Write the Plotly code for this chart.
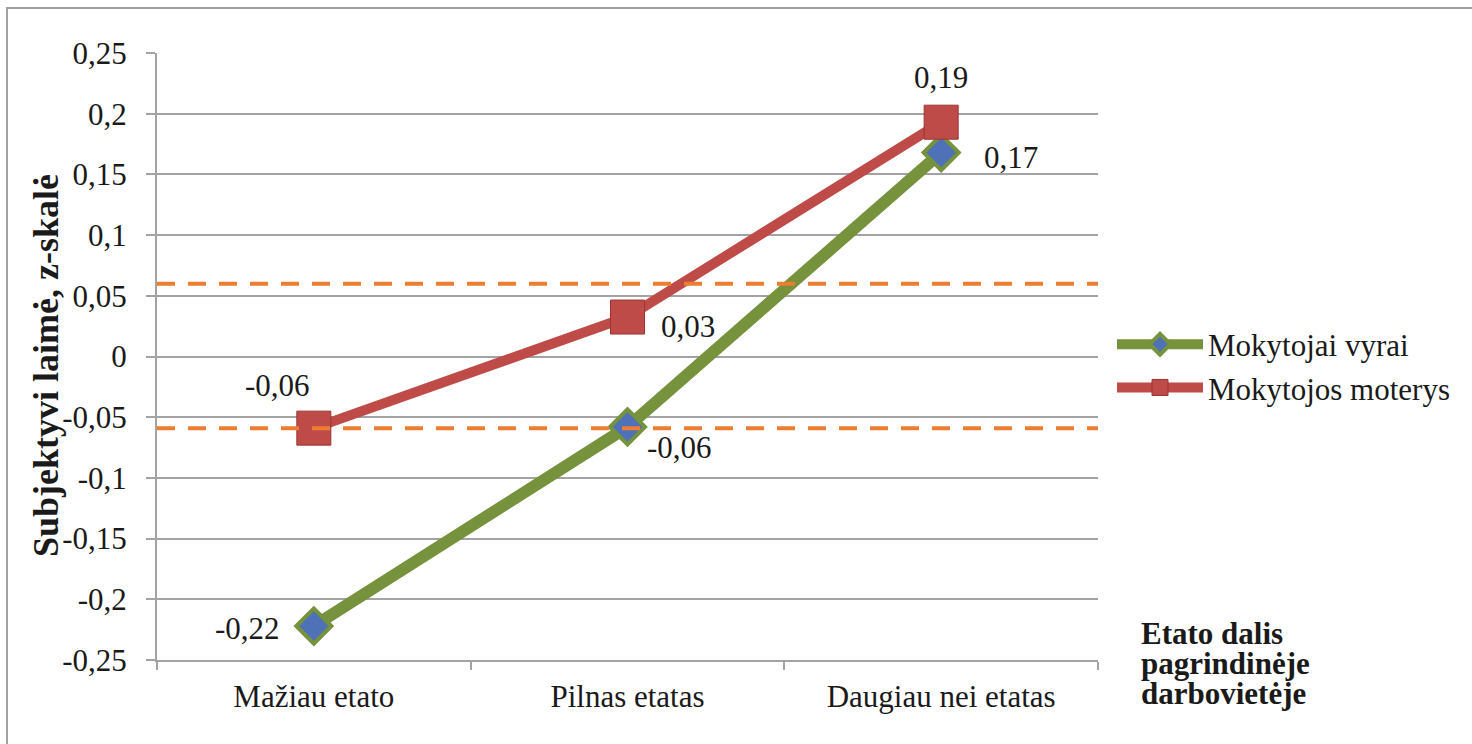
import plotly.graph_objects as go

# ---- data ----
categories = ["Mažiau etato", "Pilnas etatas", "Daugiau nei etatas"]
men_values = [-0.222, -0.058, 0.168]
women_values = [-0.059, 0.0325, 0.193]
men_labels = ["-0,22", "-0,06", "0,17"]
women_labels = ["-0,06", "0,03", "0,19"]
ref_lines = [0.06, -0.059]
y_tickvals = [0.25, 0.2, 0.15, 0.1, 0.05, 0, -0.05, -0.1, -0.15, -0.2, -0.25]
y_ticktext = ["0,25", "0,2", "0,15", "0,1", "0,05", "0", "-0,05", "-0,1", "-0,15", "-0,2", "-0,25"]
series_names = ["Mokytojai vyrai", "Mokytojos moterys"]
y_title = "Subjektyvi laimė, z-skalė"
x_title_lines = ["Etato dalis", "pagrindinėje", "darbovietėje"]

# ---- style ----
W, H = 1472, 744
L, R, T, B = 157, 1098, 53, 660
PW, PH = R - L, B - T
FONT = "Liberation Serif, Times New Roman, serif"
GRID = "#A3A3A3"
GREEN = "#76923C"
RED = "#BE4B48"
BLUE = "#4F71B8"
ORANGE = "#ED7D31"
TXT = "#1A1A1A"

def px2x(px):
    return (px - L) / PW

def py2y(py):
    return (B - py) / PH

men_offsets = [(-66, -2), (52, -21), (70, -5)]
women_offsets = [(-36, 43), (60, -9), (0, 45)]

fig = go.Figure()
fig.add_trace(go.Scatter(
    x=categories, y=men_values, name=series_names[0], mode="lines+markers",
    line=dict(color=GREEN, width=12),
    marker=dict(symbol="diamond", size=27, color=BLUE, line=dict(color=GREEN, width=4)),
))
fig.add_trace(go.Scatter(
    x=categories, y=women_values, name=series_names[1], mode="lines+markers",
    line=dict(color=RED, width=10),
    marker=dict(symbol="square", size=34, color=RED, line=dict(color="#9A3532", width=1)),
))

annotations = []
for vals, labels, offs in [(men_values, men_labels, men_offsets), (women_values, women_labels, women_offsets)]:
    for c, v, t, (dx, dy) in zip(categories, vals, labels, offs):
        annotations.append(dict(x=c, y=v, xref="x", yref="y", text=t, showarrow=False,
                                xshift=dx, yshift=dy, font=dict(family=FONT, size=31, color=TXT)))

annotations.append(dict(x=px2x(46), y=py2y(366), xref="paper", yref="paper", text="<b>%s</b>" % y_title,
                        textangle=-90, showarrow=False, xanchor="center", yanchor="middle",
                        font=dict(family=FONT, size=36, color=TXT)))
for i, line in enumerate(x_title_lines):
    annotations.append(dict(x=px2x(1139), y=py2y(633 + 30 * i), xref="paper", yref="paper",
                            text="<b>%s</b>" % line, showarrow=False, xanchor="left", yanchor="middle",
                            font=dict(family=FONT, size=31, color=TXT)))

shapes = []
for rv in ref_lines:
    shapes.append(dict(type="line", xref="paper", yref="y", x0=0, x1=1, y0=rv, y1=rv,
                       line=dict(color=ORANGE, width=4, dash="18px,13px"), layer="above"))
# outer frame (left + top)
shapes.append(dict(type="path", xref="paper", yref="paper",
                   path="M %f,%f L %f,%f L %f,%f" % (px2x(7), py2y(760), px2x(7), py2y(8), px2x(1480), py2y(8)),
                   line=dict(color="#A0A0A0", width=2)))

fig.update_layout(
    width=W, height=H, autosize=False,
    margin=dict(l=L, r=W - R, t=T, b=H - B, pad=0),
    paper_bgcolor="white", plot_bgcolor="white",
    font=dict(family=FONT, size=31, color=TXT),
    showlegend=True,
    legend=dict(x=px2x(1112), y=py2y(366), xanchor="left", yanchor="middle",
                font=dict(family=FONT, size=31, color=TXT), itemwidth=86,
                bgcolor="rgba(0,0,0,0)", tracegroupgap=0),
    annotations=annotations,
    shapes=shapes,
)
fig.update_xaxes(
    type="category", range=[-0.5, 2.5], showgrid=False, showline=True, linecolor=GRID, linewidth=2,
    ticks="outside", tickson="boundaries", ticklen=8, tickwidth=2, tickcolor=GRID,
    tickfont=dict(family=FONT, size=31, color=TXT), ticklabelstandoff=8, zeroline=False,
)
fig.update_yaxes(
    range=[-0.25, 0.25], tickvals=y_tickvals, ticktext=y_ticktext, showgrid=True, gridcolor=GRID, gridwidth=2,
    showline=True, linecolor=GRID, linewidth=2, ticks="outside", ticklen=9, tickwidth=2, tickcolor=GRID,
    tickfont=dict(family=FONT, size=31, color=TXT), ticklabelstandoff=13, zeroline=False,
)

fig.write_html("out.html", config={"displayModeBar": False},
               post_script="document.body.style.margin='0';document.body.style.padding='0';")
